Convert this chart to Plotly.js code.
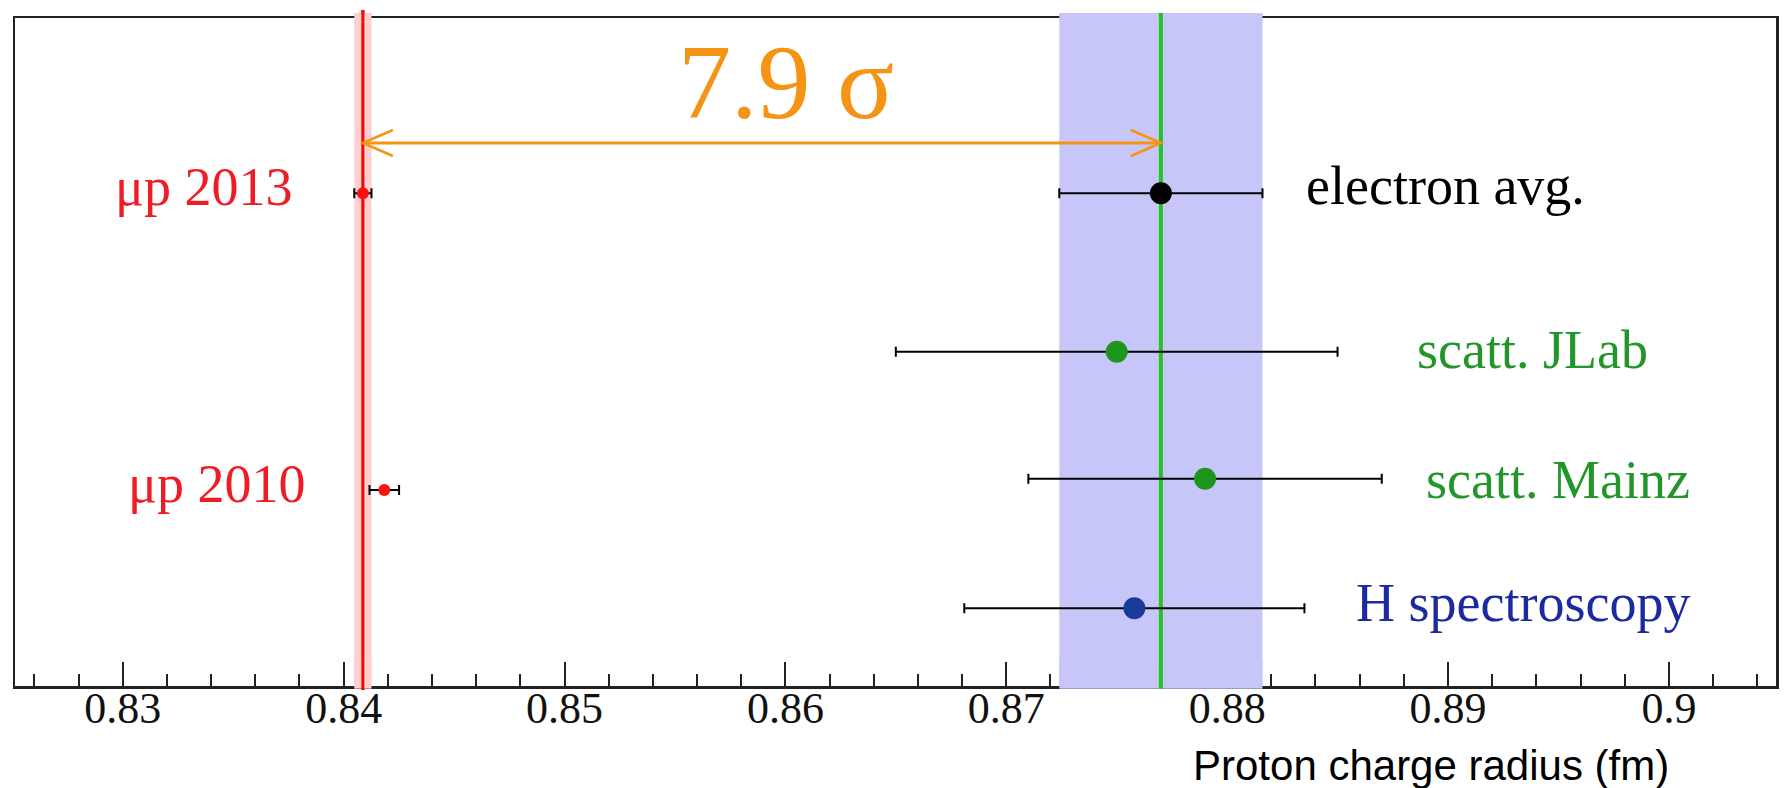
<!DOCTYPE html>
<html>
<head>
<meta charset="utf-8">
<script src="https://cdn.plot.ly/plotly-3.0.1.min.js"></script>
<style>
  html, body { margin: 0; padding: 0; background: #ffffff; }
  #chart { width: 1789px; height: 788px; }
</style>
</head>
<body>
<div id="chart"></div>
<script>
// ---------------- data ----------------
const labels    = ['μp 2013', 'μp 2010', 'electron avg.', 'scatt. JLab', 'scatt. Mainz', 'H spectroscopy'];
const radius    = [0.84087, 0.84184, 0.8770, 0.8750, 0.8790, 0.8758];
const radiusErr = [0.00039, 0.00067, 0.0046, 0.0100, 0.0080, 0.0077];
const rowPos    = [0.7376, 0.2934, 0.7376, 0.5004, 0.3103, 0.1163];
const tickValues = [0.83, 0.84, 0.85, 0.86, 0.87, 0.88, 0.89, 0.90];
const tickLabels = ['0.83', '0.84', '0.85', '0.86', '0.87', '0.88', '0.89', '0.9'];
const sigmaText  = '7.9 σ';
const xTitle     = 'Proton charge radius (fm)';

// ---------------- styles ----------------
const SERIF = 'Liberation Serif, Times New Roman, serif';
const SANS  = 'Liberation Sans, Arial, sans-serif';
const markerColors = ['#FF1010', '#FF1010', '#000000', '#1E961E', '#1E961E', '#1A3A9A'];
const markerSizes  = [12, 12, 22, 22, 22, 22];
const labelStyle = [
  {x: 0.0557, y: 0.747,  color: '#EE1C25'},
  {x: 0.0630, y: 0.3024, color: '#EE1C25'},
  {x: 0.7320, y: 0.7485, color: '#000000'},
  {x: 0.7950, y: 0.503,  color: '#22962A'},
  {x: 0.8001, y: 0.3084, color: '#22962A'},
  {x: 0.7604, y: 0.1243, color: '#1C2AA0'}
];

const MU = 0, EL = 2;           // indices of the two reference values
const ORANGE = '#F59414';

// ---------------- traces ----------------
const points = {
  type: 'scatter',
  mode: 'markers',
  x: radius,
  y: rowPos,
  error_x: {type: 'data', array: radiusErr, visible: true, color: '#000000', thickness: 2, width: 5},
  marker: {color: markerColors, size: markerSizes, opacity: 1, line: {width: 0}},
  cliponaxis: false,
  hoverinfo: 'skip',
  showlegend: false
};

// ---------------- shapes ----------------
const shapes = [];
const bandLo = -0.004, bandHi = 1.0075;
function band(i, color, layer, y0, y1) {
  return {type: 'rect', xref: 'x', yref: 'paper', layer: layer,
          x0: radius[i] - radiusErr[i], x1: radius[i] + radiusErr[i], y0: y0, y1: y1,
          fillcolor: color, line: {width: 0}};
}
function vline(i, color, w, layer, y0, y1) {
  return {type: 'line', xref: 'x', yref: 'paper', layer: layer,
          x0: radius[i], x1: radius[i], y0: y0, y1: y1, line: {color: color, width: w}};
}
shapes.push(band(MU, '#FFD0D0', 'below', bandLo, bandHi));
shapes.push(band(EL, '#C6C6F8', 'below', bandLo, bandHi));
shapes.push(vline(MU, '#FF0000', 3, 'below', -0.006, 1.012));
shapes.push(vline(EL, '#22C422', 4, 'below', bandLo, bandHi));
const strips = [[bandLo, 0.039], [0.995, bandHi]];
strips.forEach(s => {
  shapes.push(band(MU, '#FFD0D0', 'above', s[0], s[1]));
  shapes.push(band(EL, '#C6C6F8', 'above', s[0], s[1]));
});
shapes.push(vline(MU, '#FF0000', 3, 'above', -0.006, 0.039));
shapes.push(vline(MU, '#FF0000', 3, 'above', 0.995, 1.012));
shapes.push(vline(EL, '#22C422', 4, 'above', bandLo, 0.039));
shapes.push(vline(EL, '#22C422', 4, 'above', 0.995, bandHi));

const arrowY = 0.8129;
const pxPerX = 1761 / (0.90485 - 0.82512);
const hx = 30 / pxPerX, hy = 13 / 668;
shapes.push({type: 'line', xref: 'x', yref: 'paper', layer: 'above',
             x0: radius[MU], x1: radius[EL], y0: arrowY, y1: arrowY,
             line: {color: ORANGE, width: 3}});
shapes.push({type: 'path', xref: 'x', yref: 'paper', layer: 'above',
             path: `M ${radius[MU] + hx},${arrowY + hy} L ${radius[MU]},${arrowY} L ${radius[MU] + hx},${arrowY - hy}`,
             line: {color: ORANGE, width: 2.5}});
shapes.push({type: 'path', xref: 'x', yref: 'paper', layer: 'above',
             path: `M ${radius[EL] - hx},${arrowY + hy} L ${radius[EL]},${arrowY} L ${radius[EL] - hx},${arrowY - hy}`,
             line: {color: ORANGE, width: 2.5}});

// ---------------- annotations ----------------
const annotations = labels.map((t, i) => ({
  text: t, xref: 'paper', yref: 'paper', x: labelStyle[i].x, y: labelStyle[i].y,
  xanchor: 'left', yanchor: 'middle', showarrow: false,
  font: {family: SERIF, size: 54, color: labelStyle[i].color}
}));
annotations.push({
  text: sigmaText, xref: 'paper', yref: 'paper', x: 0.4376, y: 0.9027,
  xanchor: 'center', yanchor: 'middle', showarrow: false,
  font: {family: SERIF, size: 106, color: ORANGE}
});
annotations.push({
  text: xTitle, xref: 'paper', yref: 'paper', x: 0.8041, y: -0.1189,
  xanchor: 'center', yanchor: 'middle', showarrow: false,
  font: {family: SANS, size: 42, color: '#000000'}
});

// ---------------- layout ----------------
const layout = {
  width: 1789, height: 788,
  margin: {l: 15, r: 13, t: 18, b: 102, pad: 0},
  paper_bgcolor: '#ffffff', plot_bgcolor: '#ffffff',
  showlegend: false,
  hovermode: false,
  xaxis: {
    range: [0.82512, 0.90485],
    showgrid: false, zeroline: false,
    showline: true, mirror: true, linecolor: '#222222', linewidth: 2.5,
    ticks: 'inside', ticklen: 24, tickwidth: 2, tickcolor: '#222222',
    tickmode: 'array', tickvals: tickValues, ticktext: tickLabels,
    ticklabelstandoff: -18,
    tickfont: {family: SERIF, size: 44, color: '#111111'},
    minor: {ticks: 'inside', ticklen: 12, tickwidth: 2, tickcolor: '#222222',
            tickmode: 'linear', tick0: 0.826, dtick: 0.002, showgrid: false},
    fixedrange: true
  },
  yaxis: {
    range: [0, 1],
    showgrid: false, zeroline: false,
    showline: true, mirror: true, linecolor: '#222222', linewidth: 2.5,
    ticks: '', showticklabels: false,
    fixedrange: true
  },
  shapes: shapes,
  annotations: annotations
};

Plotly.newPlot('chart', [points], layout, {staticPlot: true, displayModeBar: false});
</script>
</body>
</html>
